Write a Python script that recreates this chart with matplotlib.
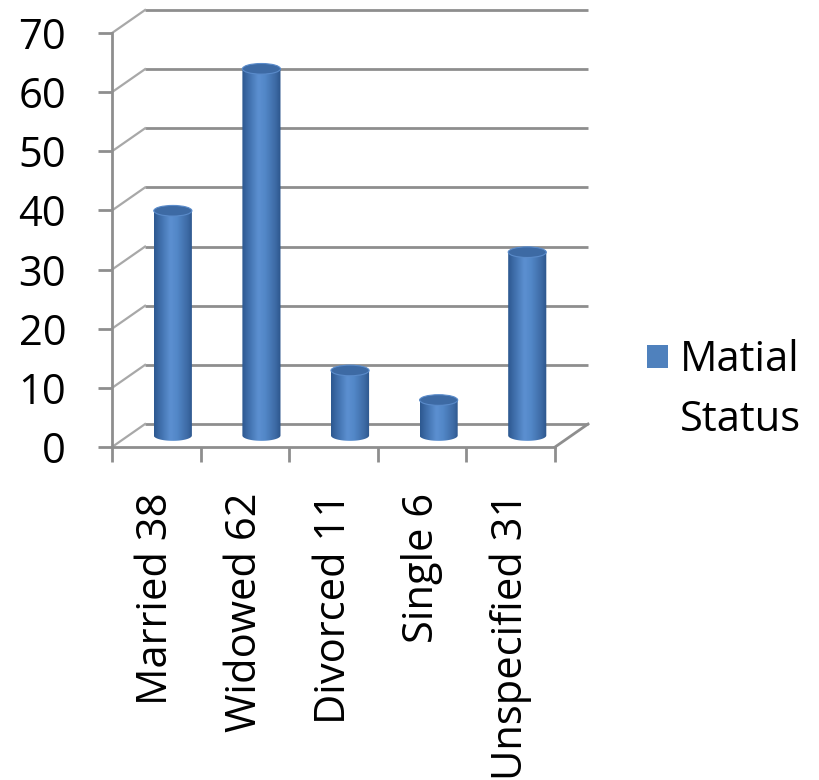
import numpy as np
import matplotlib
matplotlib.use("Agg")
import matplotlib.pyplot as plt
from matplotlib.patches import Polygon, Ellipse, Patch
from matplotlib.colors import LinearSegmentedColormap

# counts per marital status
categories = ["Married 38", "Widowed 62", "Divorced 11", "Single 6", "Unspecified 31"]
counts = [38, 62, 11, 6, 31]
y_ticks = [0, 10, 20, 30, 40, 50, 60, 70]
series_name = "Matial"
series_name_2 = "Status"

plt.rcParams["font.family"] = ["Open Sans", "DejaVu Sans"]

GRID = "#8e8e8e"
SIDE = "#a8a8a8"
BLUE = "#4f81bd"
FS = 30

# fake 3d depth of the chart walls, in data units
DX = 0.3725
DY = 3.89
BAR_W = 0.43
CAP_H = 1.8

fig = plt.figure(figsize=(8.19, 7.80), dpi=100)
ax = fig.add_axes([0.1368, 0.4269, 0.5409, 0.5308])

n = len(categories)
left, right = -0.5, n - 0.5

# back wall gridlines + side wall diagonals
for v in y_ticks:
    ax.plot([left + DX, right + DX], [v + DY, v + DY], color=GRID, lw=2.0,
            clip_on=False, zorder=1, solid_capstyle="butt")
    ax.plot([left, left + DX], [v, v + DY], color=SIDE, lw=1.6,
            clip_on=False, zorder=1)
# right edge of the floor
ax.plot([right, right + DX], [0, DY], color=GRID, lw=2.0, clip_on=False, zorder=1)

cyl = LinearSegmentedColormap.from_list(
    "cyl", [(0.0, "#2d5890"), (0.15, "#3e6da9"), (0.42, "#5c90d1"),
            (0.6, "#5287c7"), (0.88, "#3c69a3"), (1.0, "#2c558c")])
grad = np.linspace(0, 1, 64).reshape(1, -1)

for i, v in enumerate(counts):
    cx = i + DX / 2
    base = DY / 2
    top = v + DY / 2
    t = np.linspace(np.pi, 2 * np.pi, 40)
    outline = np.column_stack([cx + BAR_W / 2 * np.cos(t), base + CAP_H / 2 * np.sin(t)])
    outline = np.vstack([outline, [[cx + BAR_W / 2, top], [cx - BAR_W / 2, top]]])
    body = Polygon(outline, closed=True, facecolor="none", edgecolor="none", zorder=3)
    ax.add_patch(body)
    im = ax.imshow(grad, cmap=cyl, aspect="auto", interpolation="bicubic",
                   extent=(cx - BAR_W / 2, cx + BAR_W / 2, base - CAP_H / 2, top),
                   zorder=3)
    im.set_clip_path(body)
    ax.add_patch(Ellipse((cx, top), BAR_W, CAP_H, facecolor="#3d6aa4",
                         edgecolor="#5a8bca", lw=0.8, zorder=4))

ax.set_xlim(left, right)
ax.set_ylim(0, 70)

for side in ["top", "right"]:
    ax.spines[side].set_visible(False)
for side in ["left", "bottom"]:
    ax.spines[side].set_color(GRID)
    ax.spines[side].set_linewidth(2.0)

ax.set_yticks(y_ticks)
ax.set_yticklabels([str(v) for v in y_ticks], fontsize=FS)
ax.tick_params(axis="y", direction="out", length=10, width=2, color=GRID, pad=23)

ax.set_xticks(np.arange(n + 1) - 0.5)
ax.set_xticklabels([])
ax.set_xticks(np.arange(n), minor=True)
ax.set_xticklabels(categories, minor=True, rotation=90, fontsize=FS)
ax.tick_params(axis="x", which="major", direction="out", length=11, width=2, color=GRID)
ax.tick_params(axis="x", which="minor", length=0, pad=33)

leg = fig.legend(handles=[Patch(facecolor=BLUE)], labels=[series_name],
                 loc="center left", bbox_to_anchor=(0.790, 0.538),
                 frameon=False, fontsize=FS, handlelength=0.5, handleheight=0.5,
                 handletextpad=0.3, borderpad=0, borderaxespad=0)

# second line of the legend label, left aligned under the first
fig.canvas.draw()
bb = leg.get_texts()[0].get_window_extent()
fig.text(bb.x0 / fig.bbox.width, (bb.y0 + bb.y1) / 2 / fig.bbox.height - 60 / fig.bbox.height,
         series_name_2, fontsize=FS, ha="left", va="center")

fig.savefig("out.png", dpi=100)
